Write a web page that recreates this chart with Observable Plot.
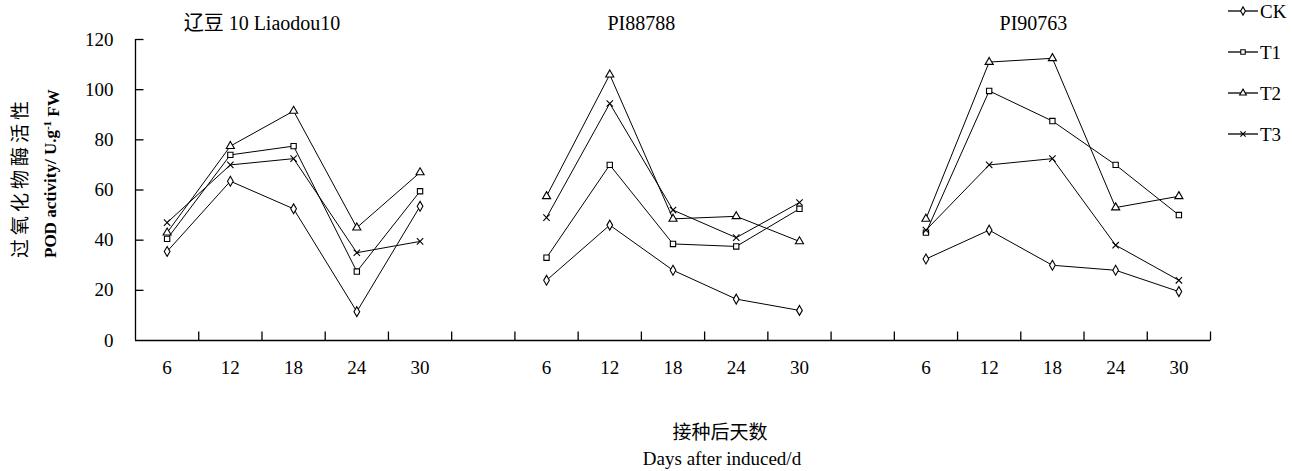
<!DOCTYPE html>
<html>
<head>
<meta charset="utf-8">
<script src="https://cdn.jsdelivr.net/npm/d3@7"></script>
<script src="https://cdn.jsdelivr.net/npm/@observablehq/plot@0.6"></script>
<style>
  html, body { margin: 0; padding: 0; background: #fff; }
  #chart { width: 1292px; height: 471px; }
  #chart svg text { font-family: 'Liberation Serif', 'Noto Sans CJK SC', serif; }
</style>
</head>
<body>
<div id="chart"></div>
<script>
// ---------- data ----------
const days = [6, 12, 18, 24, 30];
const cultivars = ["辽豆 10 Liaodou10", "PI88788", "PI90763"];
const treatments = ["CK", "T1", "T2", "T3"];
const yTicks = [0, 20, 40, 60, 80, 100, 120];

// values per treatment (CK, T1, T2, T3) over days
const liaodou10 = [
  [35.5, 63.5, 52.5, 11.5, 53.5],
  [40.5, 74, 77.5, 27.5, 59.5],
  [43, 77.5, 91.5, 45, 67],
  [47, 70, 72.5, 35, 39.5]
];
const pi88788 = [
  [24, 46, 28, 16.5, 12],
  [33, 70, 38.5, 37.5, 52.5],
  [57.5, 106, 48.5, 49.5, 39.5],
  [49, 94.5, 52, 41, 55]
];
const pi90763 = [
  [32.5, 44, 30, 28, 19.5],
  [43, 99.5, 87.5, 70, 50],
  [48.5, 111, 112.5, 53, 57.5],
  [44, 70, 72.5, 38, 24]
];

// ---------- table ----------
const groupValues = [liaodou10, pi88788, pi90763];
const slotsPerGroup = days.length + 1;
const rows = [];
groupValues.forEach((g, gi) => {
  g.forEach((series, ti) => {
    series.forEach((v, di) => {
      rows.push({cultivar: cultivars[gi], treatment: treatments[ti], day: days[di],
                 slot: gi * slotsPerGroup + di + 0.5, value: v});
    });
  });
});
const dayLabels = [];
cultivars.forEach((c, gi) => days.forEach((d, di) =>
  dayLabels.push({slot: gi * slotsPerGroup + di + 0.5, day: d})));
const nSlots = cultivars.length * slotsPerGroup - 1;
const boundaries = d3.range(1, nSlots + 1);

const symbolTypes = ["diamond", "square", "triangle", "times"];
const upTick = {draw(ctx) { ctx.moveTo(0, 0); ctx.lineTo(0, -9); }};
const rightTick = {draw(ctx) { ctx.moveTo(0, 0); ctx.lineTo(8, 0); }};

const FONT = "'Liberation Serif', 'Noto Sans CJK SC', serif";
const txt = {fontSize: 19, fill: "#000"};

const chart = Plot.plot({
  width: 1292,
  height: 471,
  marginLeft: 135,
  marginRight: 82,
  marginTop: 39,
  marginBottom: 131,
  style: {fontSize: "19px", background: "#fff", color: "#000"},
  x: {domain: [0, nSlots], axis: null},
  y: {domain: [0, 120], axis: null},
  symbol: {domain: treatments, range: symbolTypes},
  marks: [
    Plot.ruleX([0], {stroke: "#000", strokeWidth: 1.3}),
    Plot.ruleY([0], {stroke: "#000", strokeWidth: 1.3}),
    Plot.dot(boundaries, {x: d => d, y: () => 0, symbol: upTick, r: 1, stroke: "#000", strokeWidth: 1.3, fill: "none"}),
    Plot.dot(yTicks.slice(1), {x: () => 0, y: d => d, symbol: rightTick, r: 1, stroke: "#000", strokeWidth: 1.3, fill: "none"}),
    Plot.text(yTicks, {x: () => 0, y: d => d, text: d => String(d), textAnchor: "end", dx: -22, ...txt}),
    Plot.text(dayLabels, {x: "slot", text: d => String(d.day), frameAnchor: "bottom", dy: 33, ...txt}),
    Plot.text(cultivars, {x: (d, i) => i * slotsPerGroup + 2 + (i === 2 ? 0.2 : 0), text: d => d, frameAnchor: "top", dy: -24, ...txt, fontSize: 20}),
    Plot.line(rows, {x: "slot", y: "value", z: d => d.cultivar + d.treatment, stroke: "#000", strokeWidth: 1}),
    Plot.dot(rows, {x: "slot", y: "value", symbol: "treatment", r: 3, stroke: "#000", strokeWidth: 1.1, fill: "#fff"})
  ]
});

const svg = d3.select(chart);
svg.selectAll("text").style("font-family", FONT);

// y-axis titles
svg.append("text")
  .attr("transform", "translate(20,258) rotate(-90)")
  .attr("dy", "0.35em")
  .attr("text-anchor", "start")
  .style("font-family", FONT)
  .style("font-size", "19px")
  .style("letter-spacing", "4px")
  .text("过氧化物酶活性");

const pod = svg.append("text")
  .attr("transform", "translate(50,258) rotate(-90)")
  .attr("dy", "0.35em")
  .attr("text-anchor", "start")
  .style("font-family", FONT)
  .style("font-size", "17px")
  .style("font-weight", "bold");
pod.append("tspan").text("POD activity/ U.g");
pod.append("tspan").attr("dy", "-0.45em").style("font-size", "11px").text("-1");
pod.append("tspan").attr("dy", "0.45em").text(" FW");

// x-axis titles
svg.append("text")
  .attr("x", 720).attr("y", 432).attr("dy", "0.35em")
  .attr("text-anchor", "middle")
  .style("font-family", FONT).style("font-size", "19px")
  .text("接种后天数");
svg.append("text")
  .attr("x", 722).attr("y", 465)
  .attr("text-anchor", "middle")
  .style("font-family", FONT).style("font-size", "19px")
  .text("Days after induced/d");

// legend
const sym = {diamond: d3.symbolDiamond, square: d3.symbolSquare, triangle: d3.symbolTriangle, times: d3.symbolTimes};
const legend = svg.append("g");
treatments.forEach((t, i) => {
  const y = 11 + i * 41;
  const g = legend.append("g").attr("transform", `translate(0,${y})`);
  g.append("line").attr("x1", 1228).attr("x2", 1258).attr("y1", 0).attr("y2", 0)
    .attr("stroke", "#000").attr("stroke-width", 1.3);
  g.append("path").attr("transform", "translate(1243,0)")
    .attr("d", d3.symbol(sym[symbolTypes[i]], 2.5 * 2.5 * Math.PI)())
    .attr("stroke", "#000").attr("stroke-width", 1.1).attr("fill", "#fff");
  g.append("text").attr("x", 1260).attr("dy", "0.35em")
    .attr("text-anchor", "start")
    .style("font-family", FONT).style("font-size", "19px").text(t);
});

document.getElementById("chart").appendChild(chart);
</script>
</body>
</html>
